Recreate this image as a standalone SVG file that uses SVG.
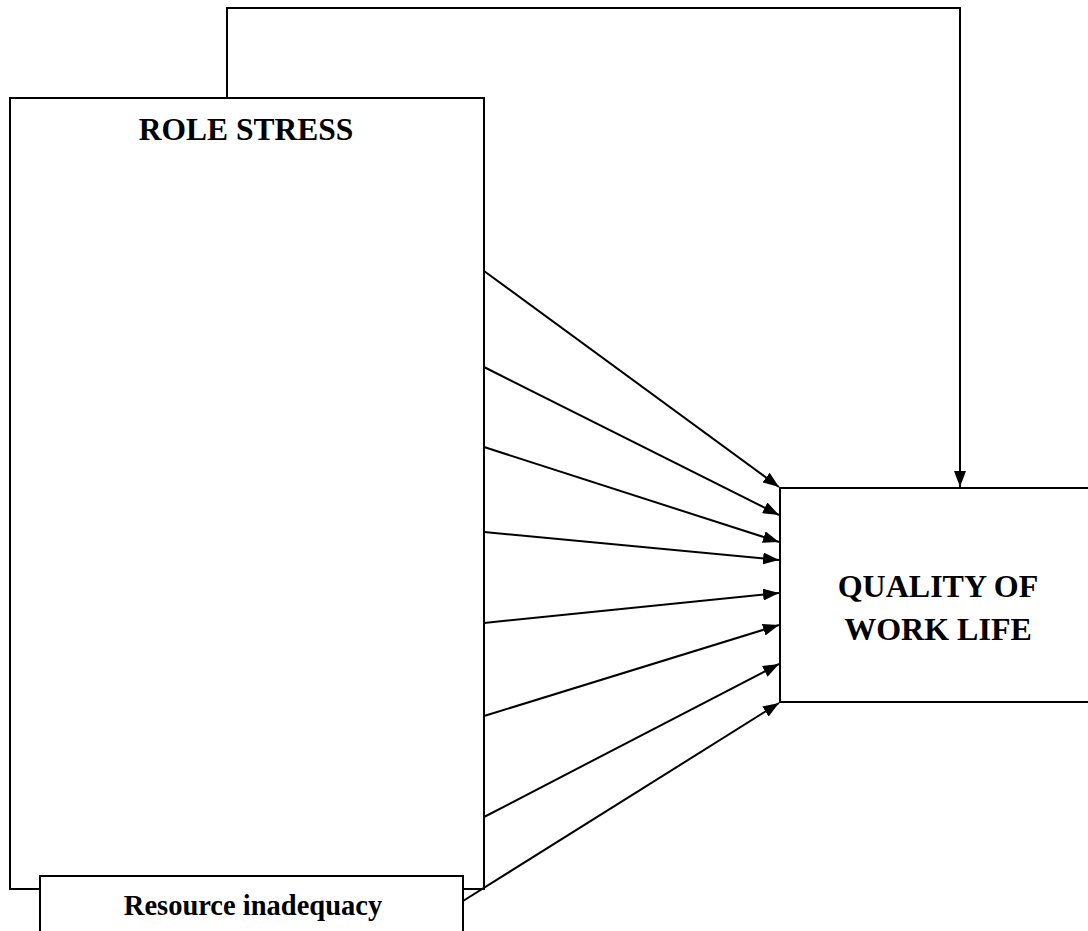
<svg xmlns="http://www.w3.org/2000/svg" width="1088" height="931" viewBox="0 0 1088 931">
<defs>
<style>
.box{fill:#fff;stroke:#000;stroke-width:2}
.lbl{font-family:"Liberation Serif","Times New Roman",serif;font-weight:bold;fill:#000;text-anchor:middle}
.con{fill:none;stroke:#000;stroke-width:2}
</style>
<marker id="ah" viewBox="0 0 16 12" refX="16" refY="6" markerWidth="16" markerHeight="12" markerUnits="userSpaceOnUse" orient="auto">
<path d="M0,0 L16,6 L0,12 z" fill="#000"/>
</marker>
</defs>
<rect width="1088" height="931" fill="#fff"/>
<g id="role-stress">
<rect class="box" x="10" y="98" width="474" height="791"/>
<text class="lbl" x="246" y="140" font-size="31.5">ROLE STRESS</text>
</g>
<g id="quality-of-work-life">
<rect class="box" x="780" y="488" width="320" height="214"/>
<text class="lbl" x="938" y="597" font-size="32">QUALITY OF</text>
<text class="lbl" x="938" y="640" font-size="32">WORK LIFE</text>
</g>
<g id="resource-inadequacy">
<rect class="box" x="40" y="876" width="423" height="70"/>
<text class="lbl" x="253" y="915" font-size="28.5">Resource inadequacy</text>
</g>
<g id="connectors">
<polyline class="con" points="227,98 227,8 960,8 960,487" marker-end="url(#ah)"/>
<line class="con" x1="484" y1="271" x2="779" y2="487" marker-end="url(#ah)"/>
<line class="con" x1="484" y1="367" x2="779" y2="515" marker-end="url(#ah)"/>
<line class="con" x1="484" y1="447" x2="779" y2="542" marker-end="url(#ah)"/>
<line class="con" x1="484" y1="532" x2="779" y2="560" marker-end="url(#ah)"/>
<line class="con" x1="484" y1="623" x2="779" y2="593" marker-end="url(#ah)"/>
<line class="con" x1="484" y1="716" x2="779" y2="625" marker-end="url(#ah)"/>
<line class="con" x1="484" y1="817" x2="779" y2="664" marker-end="url(#ah)"/>
<line class="con" x1="463" y1="901" x2="779" y2="703" marker-end="url(#ah)"/>
</g>
</svg>
